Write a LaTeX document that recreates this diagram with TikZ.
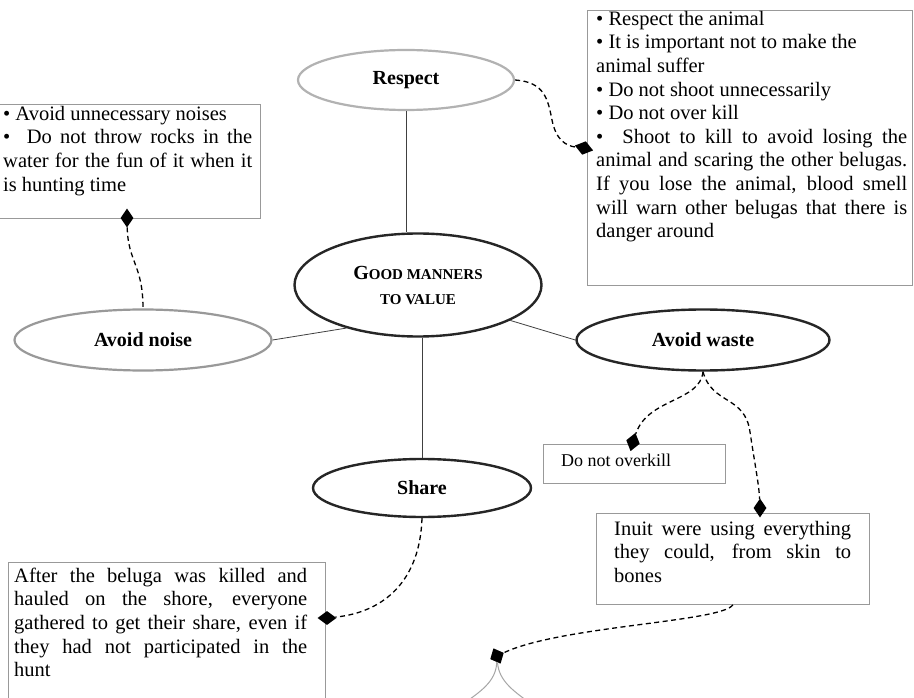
\documentclass[tikz,border=0pt]{standalone}
\usepackage{fontspec}
\setmainfont{Liberation Serif}
\usetikzlibrary{shapes.geometric}
\begin{document}
\begin{tikzpicture}[x=1pt,y=-1pt,
  ell/.style={ellipse, inner sep=0pt},
  darkell/.style={ell, draw=black!85, line width=2.4pt},
  lightell/.style={ell, draw=black!30, line width=2.2pt},
  tbox/.style={draw=black!40, line width=0.8pt, inner sep=0pt, anchor=north west},
  txt/.style={inner sep=0pt, anchor=north west, align=justify, font=\fontsize{20.5}{23.6}\selectfont},
  dia/.style={diamond, fill=black, inner sep=0pt, minimum width=13pt, minimum height=19pt},
  link/.style={draw=black!75, line width=0.8pt},
  dlink/.style={draw=black, line width=1.3pt, dash pattern=on 5pt off 3.5pt},
  lbl/.style={font=\bfseries\fontsize{20}{24}\selectfont}
]
\useasboundingbox (0,0) rectangle (914,698);
\fill[white] (0,0) rectangle (914,698);
\clip (0,0) rectangle (914,698);

% ellipses
\node[lightell, lbl, minimum width=216pt, minimum height=60pt] (respect) at (406,80) {Respect};
\node[darkell, minimum width=247pt, minimum height=103pt, align=center,
      font=\bfseries\fontsize{15}{25}\selectfont] (gm) at (418,285)
      {{\fontsize{20}{25}\selectfont G}OOD MANNERS\\TO VALUE};
\node[lightell, lbl, draw=black!40, minimum width=257pt, minimum height=61pt] (noise) at (143,340) {Avoid noise};
\node[darkell, lbl, minimum width=253pt, minimum height=61pt] (waste) at (703,340) {Avoid waste};
\node[darkell, lbl, minimum width=218pt, minimum height=58pt] (share) at (422,488) {Share};

% boxes
\node[tbox, minimum width=270pt, minimum height=114pt] (noisebox) at (-10,104) {};
\node[tbox, minimum width=325pt, minimum height=275pt] (respbox) at (587,10) {};
\node[tbox, minimum width=182pt, minimum height=39pt] (killbox) at (543,444) {};
\node[tbox, minimum width=273pt, minimum height=91pt] (inuitbox) at (596,513) {};
\node[tbox, minimum width=317pt, minimum height=150pt] (sharebox) at (8,562) {};

% texts
\node[txt, text width=249pt] (noisetext) at (3,103.5)
  {\strut• Avoid unnecessary noises\newline
   • \ Do not throw rocks in the\linebreak
   water for the fun of it when it\linebreak
   is hunting time};
\node[txt, text width=311pt] (resptext) at (596,8.5)
  {\strut• Respect the animal\newline
   • It is important not to make the\newline
   animal suffer\newline
   • Do not shoot unnecessarily\newline
   • Do not over kill\newline
   • \ Shoot to kill to avoid losing the\linebreak
   animal and scaring the other belugas.\linebreak
   If you lose the animal, blood smell\linebreak
   will warn other belugas that there is\linebreak
   danger around};
\node[inner sep=0pt, anchor=base west, font=\fontsize{18}{22}\selectfont] (killtext) at (561,466) {Do not overkill};
\node[txt, text width=237pt] (inuittext) at (614,518.5)
  {\strut Inuit were using everything\linebreak
   they could, from skin to\linebreak
   bones};
\node[txt, text width=293pt] (sharetext) at (14,565.5)
  {\strut After the beluga was killed and\linebreak
   hauled on the shore, everyone\linebreak
   gathered to get their share, even if\linebreak
   they had not participated in the\linebreak
   hunt};

% diamonds
\node[dia] (dN) at (127,218) {};
\node[dia, rotate=75, minimum width=14pt] (dR) at (584,148) {};
\node[dia, rotate=-15, minimum width=14pt, minimum height=19pt] (dK) at (633,442) {};
\node[dia] (dI) at (760,508) {};
\node[dia, rotate=90, minimum width=14pt, minimum height=19pt] (dS) at (327,618) {};
\node[dia, rotate=25, minimum width=15pt, minimum height=17pt] (dB) at (497,656) {};
\coordinate (gl) at (460,706);
\coordinate (gr) at (534,706);

% solid links
\draw[link] (respect.south) -- (respect.south |- gm.north);
\draw[link] (noise.east) -- (gm.211);
\draw[link] (gm.339) -- (waste.west);
\draw[link] (share.north |- gm.south) -- (share.north);

% dashed links
\draw[dlink] (dN) .. controls (128,262) and (143,265) .. (noise.north);
\draw[dlink] (respect.east) .. controls (545,82) and (548,100) .. (552,120)
             .. controls (556,140) and (566,146) .. (dR);
\draw[dlink] (waste.south) .. controls (700,402) and (648,398) .. (dK);
\draw[dlink] (waste.south) .. controls (712,405) and (745,395) .. (750,432)
             .. controls (755,465) and (759,485) .. (dI);
\draw[dlink] (share.south) .. controls (420,580) and (385,612) .. (dS);
\draw[dlink] (inuitbox.south) .. controls (722,622) and (560,626) .. (dB);

% faint continuation lines
\draw[draw=black!35, line width=1pt] (dB) .. controls (496,682) and (480,692) .. (gl);
\draw[draw=black!35, line width=1pt] (dB) .. controls (499,682) and (515,692) .. (gr);
\end{tikzpicture}
\end{document}
